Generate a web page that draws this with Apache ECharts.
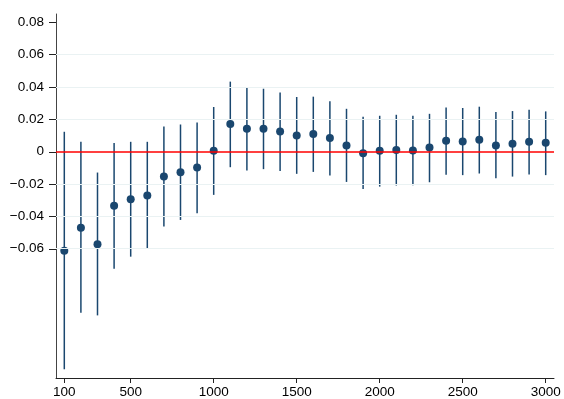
<!DOCTYPE html>
<html>
<head>
<meta charset="utf-8">
<script src="https://cdn.jsdelivr.net/npm/echarts@6/dist/echarts.min.js"></script>
<style>html,body{margin:0;padding:0;background:#fff}#c{width:564px;height:399px}</style>
</head>
<body>
<div id="c"></div>
<script>
var xValues = [100,200,300,400,500,600,700,800,900,1000,1100,1200,1300,1400,1500,1600,1700,1800,1900,2000,2100,2200,2300,2400,2500,2600,2700,2800,2900,3000];
var estimates = [-0.0613,-0.0471,-0.0574,-0.0336,-0.0295,-0.0272,-0.0155,-0.0128,-0.0099,0.0004,0.0170,0.0141,0.0141,0.0124,0.0099,0.0108,0.0083,0.0037,-0.0010,0.0004,0.0010,0.0006,0.0025,0.0066,0.0062,0.0072,0.0037,0.0048,0.0060,0.0054];
var ciUpper = [0.0122,0.0060,-0.0130,0.0052,0.0060,0.0060,0.0155,0.0167,0.0180,0.0275,0.0432,0.0399,0.0388,0.0365,0.0337,0.0339,0.0310,0.0264,0.0215,0.0221,0.0227,0.0221,0.0233,0.0272,0.0269,0.0277,0.0244,0.0250,0.0258,0.0248];
var ciLower = [-0.1346,-0.0997,-0.1013,-0.0724,-0.0650,-0.0600,-0.0464,-0.0423,-0.0381,-0.0268,-0.0097,-0.0118,-0.0109,-0.0120,-0.0138,-0.0126,-0.0149,-0.0188,-0.0231,-0.0217,-0.0210,-0.0208,-0.0190,-0.0144,-0.0146,-0.0136,-0.0165,-0.0155,-0.0142,-0.0146];
var xTickLabels = [100,500,1000,1500,2000,2500,3000];
var yTickLabels = [-0.06,-0.04,-0.02,0,0.02,0.04,0.06,0.08];
var gridValues = [-0.06,-0.04,-0.02,0.02,0.04,0.06];
var zeroLineValue = 0;
var xMin = 50, xMax = 3050, yMin = -0.14, yMax = 0.085;

var navy = '#1a476f';
var ciData = xValues.map(function(x,i){ return [x, ciLower[i], ciUpper[i]]; });
var ptData = xValues.map(function(x,i){ return [x, estimates[i]]; });

function fmtY(v){
  if (Math.abs(v) < 1e-9) return '0';
  var s = Math.abs(v).toFixed(2);
  return (v < 0 ? '\u2212' : '') + s;
}

var chart = echarts.init(document.getElementById('c'), null, {renderer:'canvas'});
var font = {fontFamily:'Liberation Sans, Arial, Helvetica, sans-serif', fontSize:13.5, color:'#000'};
chart.setOption({
  animation:false,
  backgroundColor:'#fff',
  grid:{left:56, right:10, top:14, bottom:21, containLabel:false},
  xAxis:{
    type:'value', min:xMin, max:xMax,
    axisLine:{show:true, onZero:false, lineStyle:{color:'#222', width:1}},
    axisTick:{show:true, length:5, customValues:xTickLabels, lineStyle:{color:'#222', width:1}},
    axisLabel:Object.assign({customValues:xTickLabels, margin:7, formatter:function(v){return String(v);}}, font),
    splitLine:{show:false}
  },
  yAxis:{
    type:'value', min:yMin, max:yMax,
    axisLine:{show:true, onZero:false, lineStyle:{color:'#444', width:1}},
    axisTick:{show:false},
    axisLabel:Object.assign({customValues:yTickLabels, margin:12, formatter:fmtY}, font),
    splitLine:{show:false}
  },
  series:[
    {
      id:'grid', type:'line', data:[], silent:true, z:1,
      markLine:{
        silent:true, symbol:'none', label:{show:false},
        lineStyle:{color:'#eaf2f3', width:1, type:'solid', opacity:1},
        data: gridValues.map(function(v){ return {yAxis:v}; })
      }
    },
    {
      type:'line', data:[], silent:true, z:2,
      markLine:{
        silent:true, symbol:'none', label:{show:false},
        lineStyle:{color:'#ff0000', width:1.6, type:'solid', opacity:1},
        emphasis:{disabled:true},
        data:[{yAxis:zeroLineValue}]
      }
    },
    {
      type:'custom', z:3, data:ciData,
      renderItem:function(params, api){
        var x = api.value(0);
        var p1 = api.coord([x, api.value(1)]);
        var p2 = api.coord([x, api.value(2)]);
        return {type:'line', shape:{x1:p1[0], y1:p1[1], x2:p2[0], y2:p2[1]},
          style:{stroke:navy, lineWidth:1.5}};
      }
    },
    {
      type:'scatter', z:4, data:ptData, symbol:'circle', symbolSize:8,
      itemStyle:{color:navy, opacity:1}
    }
  ]
});
// y-axis tick marks placed through the chart's own scale
var p0 = chart.convertToPixel({gridIndex:0}, [xMin, 0]);
var xTickEnd = chart.convertFromPixel({gridIndex:0}, [p0[0] - 7, 0])[0];
chart.setOption({
  series:[{
    id:'yticks', type:'line', data:[], silent:true, z:10, clip:false,
    markLine:{
      silent:true, symbol:'none', label:{show:false}, clip:false,
      lineStyle:{color:'#222', width:1, type:'solid', opacity:1},
      emphasis:{disabled:true},
      data: yTickLabels.map(function(v){ return [{coord:[xTickEnd, v]}, {coord:[xMin, v]}]; })
    }
  }]
});
var tickEls = yTickLabels.map(function(v){
  var p = chart.convertToPixel({gridIndex:0}, [xMin, v]);
  var y = Math.round(p[1]) + 0.5;
  return {type:'line', silent:true, z:100,
    shape:{x1:p[0]-7, y1:y, x2:p[0], y2:y},
    style:{stroke:'#222', lineWidth:1}};
});
chart.setOption({graphic:{elements:tickEls}});
</script>
</body>
</html>
